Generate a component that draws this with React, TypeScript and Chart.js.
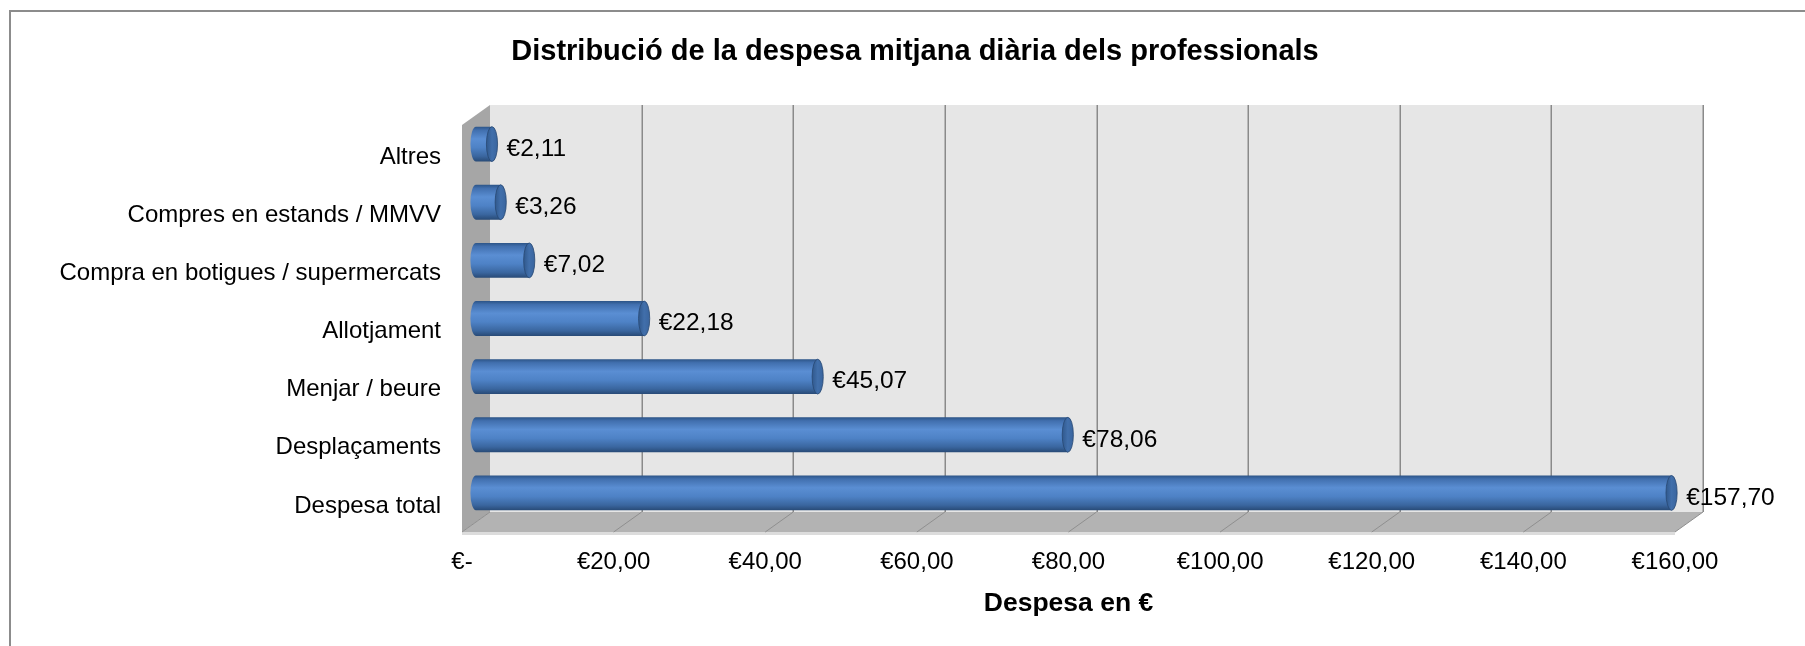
import React, { useEffect, useRef } from "react";
import { Chart, registerables } from "chart.js";

Chart.register(...registerables);

const categories = [
  "Altres",
  "Compres en estands / MMVV",
  "Compra en botigues / supermercats",
  "Allotjament",
  "Menjar / beure",
  "Desplaçaments",
  "Despesa total",
];
const values = [2.11, 3.26, 7.02, 22.18, 45.07, 78.06, 157.7];
const xTickValues = [0, 20, 40, 60, 80, 100, 120, 140, 160];
const chartTitle = "Distribució de la despesa mitjana diària dels professionals";
const axisTitle = "Despesa en €";

const FONT = '"Liberation Sans", Arial, Helvetica, sans-serif';
const DX = 28;
const DY = 20;

function euro(v: number): string {
  return v === 0 ? "€-" : "€" + v.toFixed(2).replace(".", ",");
}

const scenePlugin = {
  id: "scene3d",
  beforeDraw(chart: any) {
    const ctx = chart.ctx;
    ctx.save();
    ctx.fillStyle = "#ffffff";
    ctx.fillRect(0, 0, chart.width, chart.height);
    ctx.strokeStyle = "#8c8c8c";
    ctx.lineWidth = 2;
    ctx.strokeRect(10, 11, 3000, 3000);
    // title
    ctx.fillStyle = "#000";
    ctx.font = `bold 29px ${FONT}`;
    ctx.textAlign = "center";
    ctx.textBaseline = "middle";
    ctx.fillText(chartTitle, 915, 52);
    ctx.restore();
  },
  beforeDatasetsDraw(chart: any) {
    const ctx = chart.ctx;
    const { top, bottom } = chart.chartArea;
    const xs = chart.scales.x;
    const xl = xs.getPixelForValue(xTickValues[0]);
    const xr = xs.getPixelForValue(xTickValues[xTickValues.length - 1]);
    ctx.save();
    // left wall
    ctx.fillStyle = "#a6a6a6";
    ctx.beginPath();
    ctx.moveTo(xl, top);
    ctx.lineTo(xl + DX, top - DY);
    ctx.lineTo(xl + DX, bottom - DY);
    ctx.lineTo(xl, bottom);
    ctx.closePath();
    ctx.fill();
    // back wall
    ctx.fillStyle = "#e6e6e6";
    ctx.fillRect(xl + DX, top - DY, xr - xl, bottom - top);
    // gridlines on back wall
    ctx.strokeStyle = "#8a8a8a";
    ctx.lineWidth = 1.5;
    xTickValues.forEach((v) => {
      if (v === 0) return;
      const px = Math.round(xs.getPixelForValue(v) + DX) + 0.25;
      ctx.beginPath();
      ctx.moveTo(px, top - DY);
      ctx.lineTo(px, bottom - DY);
      ctx.stroke();
    });
    // floor
    ctx.fillStyle = "#b3b3b3";
    ctx.beginPath();
    ctx.moveTo(xl, bottom);
    ctx.lineTo(xl + DX, bottom - DY);
    ctx.lineTo(xr + DX, bottom - DY);
    ctx.lineTo(xr, bottom);
    ctx.closePath();
    ctx.fill();
    ctx.fillStyle = "#dcdcdc";
    ctx.fillRect(xl, bottom, xr - xl, 3);
    // floor diagonals
    ctx.strokeStyle = "#8f8f8f";
    ctx.lineWidth = 1;
    xTickValues.forEach((v) => {
      const px = xs.getPixelForValue(v);
      ctx.beginPath();
      ctx.moveTo(px + DX, bottom - DY);
      ctx.lineTo(px, bottom);
      ctx.stroke();
    });
    ctx.restore();
  },
  afterDatasetsDraw(chart: any) {
    const ctx = chart.ctx;
    const meta = chart.getDatasetMeta(0);
    const data = chart.data.datasets[0].data as number[];
    ctx.save();
    meta.data.forEach((el: any, i: number) => {
      const { x, y, base, height } = el.getProps(["x", "y", "base", "height"], true);
      const cy = y - DY / 2;
      const x0 = base + DX / 2;
      const x1 = x + DX / 2;
      const h = height / 2;
      const rx = Math.max(4, h * 0.32);
      // body
      const g = ctx.createLinearGradient(0, cy - h, 0, cy + h);
      g.addColorStop(0, "#2c5487");
      g.addColorStop(0.1, "#416fae");
      g.addColorStop(0.35, "#5a8ed3");
      g.addColorStop(0.6, "#4e82c6");
      g.addColorStop(0.85, "#3a669f");
      g.addColorStop(1, "#284a76");
      ctx.fillStyle = g;
      ctx.beginPath();
      ctx.moveTo(x1, cy - h);
      ctx.lineTo(x0, cy - h);
      ctx.ellipse(x0, cy, rx, h, 0, -Math.PI / 2, Math.PI / 2, true);
      ctx.lineTo(x1, cy + h);
      ctx.closePath();
      ctx.fill();
      // end cap
      const gc = ctx.createLinearGradient(x1 - rx, 0, x1 + rx, 0);
      gc.addColorStop(0, "#30588c");
      gc.addColorStop(0.5, "#416fab");
      gc.addColorStop(1, "#3a659e");
      ctx.fillStyle = gc;
      ctx.beginPath();
      ctx.ellipse(x1, cy, rx, h, 0, 0, Math.PI * 2);
      ctx.fill();
      ctx.strokeStyle = "rgba(40,72,115,0.8)";
      ctx.lineWidth = 1;
      ctx.stroke();
      // data label
      ctx.fillStyle = "#000";
      ctx.font = `24.5px ${FONT}`;
      ctx.textAlign = "left";
      ctx.textBaseline = "middle";
      ctx.fillText(euro(data[i]), x1 + rx + 9, cy + 5);
    });
    ctx.restore();
  },
};

export default function App() {
  const canvasRef = useRef<HTMLCanvasElement | null>(null);

  useEffect(() => {
    const canvas = canvasRef.current;
    if (!canvas) return;
    const chart = new Chart(canvas, {
      type: "bar",
      data: {
        labels: categories,
        datasets: [
          {
            data: values,
            backgroundColor: "rgba(0,0,0,0)",
            borderWidth: 0,
            barPercentage: 0.6,
            categoryPercentage: 1,
          },
        ],
      },
      options: {
        indexAxis: "y",
        responsive: false,
        animation: false,
        devicePixelRatio: 1,
        layout: { padding: { left: 0, right: 130, top: 125, bottom: 0 } },
        plugins: {
          legend: { display: false },
          tooltip: { enabled: false },
          title: { display: false },
        },
        scales: {
          x: {
            type: "linear",
            position: "bottom",
            min: 0,
            max: 160,
            grid: { display: false, drawTicks: false },
            border: { display: false },
            ticks: {
              stepSize: 20,
              autoSkip: false,
              maxRotation: 0,
              padding: 16,
              color: "#000",
              font: { family: FONT, size: 24, lineHeight: 1.2 },
              callback: (v: any) => euro(Number(v)),
            },
            title: {
              display: true,
              text: axisTitle,
              color: "#000",
              font: { family: FONT, size: 26.5, weight: "bold", lineHeight: 1.2 },
              padding: { top: 0, bottom: 26 },
            },
            afterFit: (s: any) => {
              s.height = 114;
            },
          },
          y: {
            type: "category",
            grid: { display: false, drawTicks: false },
            border: { display: false },
            ticks: {
              padding: 21,
              labelOffset: 3,
              color: "#000",
              font: { family: FONT, size: 24, lineHeight: 1.2 },
            },
            afterFit: (s: any) => {
              s.width = 462;
            },
          },
        },
      },
      plugins: [scenePlugin],
    } as any);
    return () => chart.destroy();
  }, []);

  return (
    <div
      style={{
        position: "absolute",
        left: 0,
        top: 0,
        width: 1805,
        height: 646,
        overflow: "hidden",
        background: "#fff",
      }}
    >
      <canvas ref={canvasRef} width={1805} height={646} style={{ display: "block" }} />
    </div>
  );
}
